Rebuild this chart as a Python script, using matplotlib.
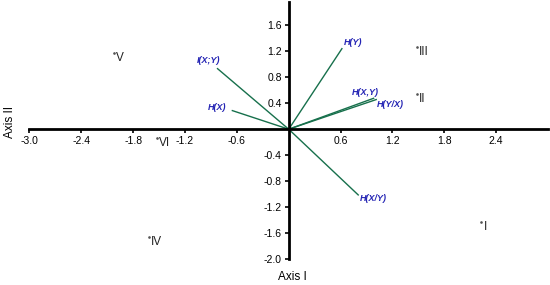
"""Biplot of entropy vectors and sample points."""
import matplotlib.pyplot as plt
import numpy as np

# vectors (from origin)
vec_names = ["H(X)", "I(X;Y)", "H(Y)", "H(X,Y)", "H(Y/X)", "H(X/Y)"]
vec_x = [-0.66, -0.83, 0.62, 0.99, 1.02, 0.81]
vec_y = [0.29, 0.94, 1.25, 0.48, 0.46, -1.02]

# sample points
pt_names = ["I", "II", "III", "IV", "V", "VI"]
pt_x = [2.23, 1.48, 1.48, -1.62, -2.02, -1.53]
pt_y = [-1.43, 0.55, 1.26, -1.66, 1.18, -0.14]

x_ticks = [-3.0, -2.4, -1.8, -1.2, -0.6, 0.6, 1.2, 1.8, 2.4]
y_ticks = [-2.0, -1.6, -1.2, -0.8, -0.4, 0.4, 0.8, 1.2, 1.6]

# label placement (offset pixels, alignment)
vec_lab = {
    "H(X)": (-5, 3, "right"),
    "I(X;Y)": (-8, 8, "center"),
    "H(Y)": (2, 6, "left"),
    "H(X,Y)": (-9, 6, "center"),
    "H(Y/X)": (0, -5, "left"),
    "H(X/Y)": (1, -3, "left"),
}

plt.rcParams["font.family"] = ["Liberation Sans", "DejaVu Sans"]

fig = plt.figure(figsize=(5.5, 2.85), dpi=100)
ax = fig.add_axes([0.0536, 0.0912, 0.9427, 0.9018])
ax.set_xlim(-3.0, 3.0)
ax.set_ylim(-2.0, 1.96)

for s in ("top", "right"):
    ax.spines[s].set_visible(False)
ax.spines["left"].set_position(("data", 0))
ax.spines["bottom"].set_position(("data", 0))
ax.spines["left"].set_linewidth(2)
ax.spines["bottom"].set_linewidth(2)

ax.set_xticks(x_ticks)
ax.set_yticks(y_ticks)
ax.set_xticklabels([f"{v:.1f}" for v in x_ticks])
ax.set_yticklabels([f"{v:.1f}" for v in y_ticks])
ax.tick_params(direction="out", length=3, width=1.2, labelsize=7.5, pad=2,
               colors="black")

for name, x, y in zip(vec_names, vec_x, vec_y):
    ax.plot([0, x], [0, y], color="#17704c", lw=1.0, solid_capstyle="butt")
    dx, dy, ha = vec_lab[name]
    ax.annotate(name, (x, y), xytext=(dx, dy), textcoords="offset pixels",
                ha=ha, va="center", fontsize=6.5, fontweight="bold",
                fontstyle="italic", color="#2424b4")

ax.scatter(pt_x, pt_y, s=0.8, color="#555555", zorder=3)
for name, x, y in zip(pt_names, pt_x, pt_y):
    ax.annotate(name, (x, y), xytext=(2, -5), textcoords="offset pixels",
                ha="left", va="center", fontsize=8.5, color="#222222")

fig.text(10 / 550, 1 - 122 / 285, "Axis II", rotation=90, ha="center",
         va="center", fontsize=8.5)
fig.text(292 / 550, 1 - 277 / 285, "Axis I", ha="center", va="center",
         fontsize=8.5)

fig.savefig("out.png", dpi=100)
